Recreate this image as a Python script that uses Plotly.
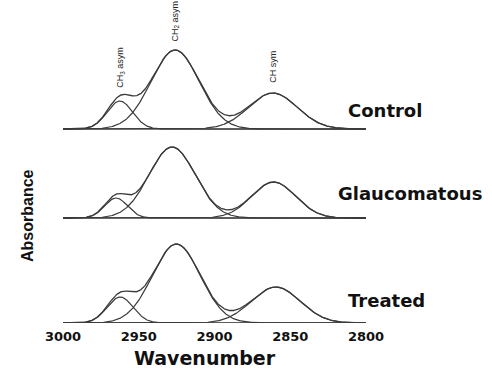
import numpy as np
import plotly.graph_objects as go

# Fitted C-H stretching bands for each sample (Gaussian components)
samples = ["Control", "Glaucomatous", "Treated"]
band_labels = ["CH<sub>3</sub> asym", "CH<sub>2</sub> asym", "CH sym"]

ch3_center = [2962.5, 2965.0, 2962.3]
ch3_height = [28, 20, 26]
ch3_sigma = [8.4, 7.5, 8.6]

ch2_center = [2926.0, 2928.0, 2925.2]
ch2_height = [79, 71, 79]
ch2_sigma = [15.8, 15.3, 15.7]

chs_center = [2861.5, 2861.0, 2859.6]
chs_height = [36, 36, 36]
chs_sigma = [16.0, 14.5, 16.1]

x_ticks = [3000, 2950, 2900, 2850, 2800]

# vertical stacking of the three spectra
stack_offset = [194, 105, 0]
label_y = [213, 130, 23]
label_x = [2813, 2819.5, 2813]

wn = np.linspace(3000, 2800, 801)


def gauss(c, h, s):
    return h * np.exp(-((wn - c) ** 2) / (2 * s ** 2))


curve_color = "#3a3a3a"
fig = go.Figure()

for i, name in enumerate(samples):
    off = stack_offset[i]
    comps = [
        gauss(ch3_center[i], ch3_height[i], ch3_sigma[i]),
        gauss(ch2_center[i], ch2_height[i], ch2_sigma[i]),
        gauss(chs_center[i], chs_height[i], chs_sigma[i]),
    ]
    total = comps[0] + comps[1] + comps[2]
    # baseline
    fig.add_trace(go.Scatter(x=[3000, 2800], y=[off, off], mode="lines",
                             line=dict(color="#555555", width=1.5),
                             hoverinfo="skip", showlegend=False))
    for comp in comps:
        fig.add_trace(go.Scatter(x=wn, y=comp + off, mode="lines",
                                 line=dict(color=curve_color, width=1.2),
                                 showlegend=False))
    fig.add_trace(go.Scatter(x=wn, y=total + off, mode="lines",
                             line=dict(color=curve_color, width=1.3),
                             name=name, showlegend=False))
    fig.add_annotation(x=label_x[i], y=label_y[i], text=name, showarrow=False,
                       xanchor="left", yanchor="middle",
                       font=dict(family="DejaVu Sans", size=18, color="#111111",
                                 weight="bold"))

    if i == 0:
        # band assignments above the control spectrum
        centers = [ch3_center[i], ch2_center[i], chs_center[i]]
        gaps = [6, 6, 8]
        for lab, c, g in zip(band_labels, centers, gaps):
            peak = float(total[np.argmin(np.abs(wn - c))])
            fig.add_annotation(x=c, y=peak + off, text=lab, showarrow=False,
                               textangle=-90, xanchor="center", yanchor="bottom",
                               yshift=g,
                               font=dict(family="Liberation Sans Narrow, Liberation Sans",
                                         size=9, color="#222222"))

fig.add_annotation(x=0.469, y=-0.113, xref="paper", yref="paper",
                   text="Wavenumber", showarrow=False,
                   xanchor="center", yanchor="middle",
                   font=dict(family="DejaVu Sans", size=19, color="#111111", weight="bold"))
fig.add_annotation(x=-0.1155, y=0.342, xref="paper", yref="paper",
                   text="Absorbance", showarrow=False, textangle=-90,
                   xanchor="center", yanchor="middle",
                   font=dict(family="Liberation Sans", size=16, color="#111111", weight="bold"))

fig.update_xaxes(range=[3000, 2800], tickvals=x_ticks,
                 ticktext=[str(t) for t in x_ticks],
                 showgrid=False, zeroline=False, showline=False, ticks="",
                 ticklabelstandoff=4,
                 tickfont=dict(family="DejaVu Sans", size=13, color="#111111",
                               weight="bold"))
fig.update_yaxes(range=[0, 313], visible=False)

fig.update_layout(width=492, height=371,
                  margin=dict(l=63, r=126, t=10, b=48),
                  plot_bgcolor="white", paper_bgcolor="white",
                  showlegend=False)

fig.write_html("out.html")
